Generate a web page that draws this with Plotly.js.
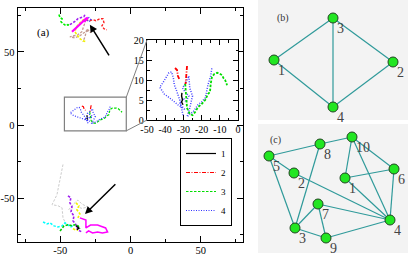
<!DOCTYPE html>
<html><head><meta charset="utf-8">
<script src="https://cdn.plot.ly/plotly-3.0.1.min.js"></script>
<style>html,body{margin:0;padding:0;background:#fff}#chart{width:409px;height:256px}</style>
</head><body><div id="chart"></div>
<script>
// ---------- tick labels ----------
const mainTickVals = [-50, 0, 50];
const mainTickText = ['-50', '0', '50'];
const mainMinorVals = [-75, -25, 25, 75];
const insetXTickVals = [-50, -40, -30, -20, -10, 0];
const insetXTickText = ['-50', '-40', '-30', '-20', '-10', '0'];
const insetXMinor = [-45, -35, -25, -15, -5];
const insetYTickVals = [0, 5, 10, 15, 20];
const insetYTickText = ['0', '5', '10', '15', '20'];
const insetYMinor = [2.5, 7.5, 12.5, 17.5];

// ---------- upper cluster trajectories (panel a) ----------
const upGreenX = [-50.9, -50.1, -48.7, -49.4, -48.0, -45.9, -44.5, -43.1];
const upGreenY = [75.5, 73.4, 72.7, 70.6, 69.3, 67.9, 68.6, 67.9];
const upPurpleX = [-43.1, -40.9, -38.8, -37.4, -35.2, -33.1, -32.4];
const upPurpleY = [68.6, 69.9, 71.3, 72.7, 73.4, 74.1, 75.5];
const upMagentaX = [-41.6, -39.5, -37.4, -36.0, -33.8, -31.7, -30.3, -31.7, -33.1];
const upMagentaY = [63.8, 65.8, 67.9, 69.3, 71.3, 72.7, 73.4, 71.9, 70.6];
const upYellowX = [-33.1, -36.0, -38.8, -39.5, -38.1, -36.0, -33.8, -31.7];
const upYellowY = [72.3, 69.9, 66.5, 63.8, 61.7, 59.0, 57.6, 56.9];
const upTanX = [-31.7, -33.1, -34.6, -37.4, -43.1, -39.5, -36.0, -33.1, -30.3, -28.1, -31.0, -32.4, -33.8];
const upTanY = [71.9, 67.2, 63.8, 61.7, 60.3, 59.6, 61.0, 63.1, 64.4, 63.1, 65.8, 60.3, 56.9];
const upRedX = [-31.7, -28.9, -26.7, -24.6, -21.8, -19.6, -18.9, -20.3, -18.9, -16.8];
const upRedY = [72.0, 71.3, 72.0, 71.3, 72.7, 72.7, 70.0, 67.9, 65.8, 65.1];
const upBlueX = [-31.7, -29.6, -28.2, -29.6, -30.8];
const upBlueY = [72.7, 73.4, 72.0, 70.6, 71.5];

// ---------- lower cluster trajectories (panel a) ----------
const loGrayX = [-48.0, -49.0, -50.1, -51.5, -52.3, -55.8, -51.6, -48.7, -48.0, -45.9];
const loGrayY = [-27.0, -32.0, -37.5, -43.0, -47.7, -54.5, -55.2, -56.6, -63.5, -67.6];
const loGray2X = [-44.0, -40.5, -37.4, -34.6, -30.3, -34.6, -37.4];
const loGray2Y = [-58.0, -54.0, -51.3, -54.0, -56.1, -57.0, -56.1];
const loPurpleX = [-44.5, -42.4, -43.1, -41.6, -42.3, -40.2, -40.9, -38.8, -37.4, -34.6];
const loPurpleY = [-48.5, -49.7, -53.2, -55.9, -59.4, -62.1, -65.5, -68.2, -71.7, -73.1];
const loYellowX = [-38.8, -36.7, -38.1, -36.0, -37.4];
const loYellowY = [-53.2, -55.2, -58.0, -60.7, -63.5];
const loYellow2X = [-40.9, -38.5, -37.4];
const loYellow2Y = [-71.0, -72.0, -71.7];
const loMagentaX = [-36.0, -31.7, -31.7, -28.4, -23.4, -20.0, -17.7, -16.3, -20.0, -23.4, -27.0, -29.8, -31.7];
const loMagentaY = [-63.5, -64.9, -70.4, -68.4, -68.4, -69.8, -70.4, -73.1, -73.8, -73.1, -73.8, -72.4, -73.8];
const loCyanX = [-62.2, -59.4, -57.2, -54.4, -51.6, -48.7, -46.6, -44.5, -42.3, -40.2];
const loCyanY = [-66.3, -67.6, -66.9, -69.0, -69.7, -69.0, -66.9, -68.2, -69.7, -68.2];
const loGreenX = [-50.1, -48.7, -47.3, -44.5, -41.6, -39.5, -37.4, -36.0];
const loGreenY = [-72.4, -70.4, -69.0, -68.2, -68.9, -68.2, -68.9, -71.0];
const loBlackX = [-38.8, -36.7, -38.1];
const loBlackY = [-68.9, -70.4, -71.7];

// ---------- the four labelled trajectories (shown in the small box and the inset) ----------
const s1X = [-30.8, -31.0, -30.5, -31.0, -30.2];
const s1Y = [6.8, 6.0, 5.0, 4.5, 3.8];
const s2X = [-34.6, -33.5, -33.0, -32.0, null, -28.0, -28.3, -28.8];
const s2Y = [13.0, 12.5, 11.0, 10.0, null, 13.5, 11.5, 9.0];
const s3X = [-29.0, -28.8, -28.5, -28.0, -26.5, -25.0, -23.5, -22.0, -20.0, -18.0, -16.5, -15.4, -15.0, -14.3, -13.0, -11.5, -10.0, -8.8, -8.0, -7.1, -6.5, -6.0];
const s3Y = [9.0, 7.0, 5.0, 3.0, 1.5, 1.2, 2.0, 3.2, 4.0, 5.0, 6.5, 7.0, 9.0, 10.8, 11.5, 11.8, 11.6, 11.2, 10.5, 10.0, 9.3, 8.7];
const s4X = [-30.2, -31.0, -32.0, -33.5, -35.0, -35.5, -36.5, -38.0, -39.0, -41.0, -43.0, -40.5, -37.5, -35.0, -33.0, -31.0, -29.0, -30.0, -32.0, -30.0, -28.5, -27.0, -29.0, -30.5, -28.5, -27.0, -26.5, -25.0, -26.5, -28.0, -26.5, -24.7, -22.0, -20.0, -18.0, -16.5, -15.0, -14.3];
const s4Y = [1.2, 3.0, 5.0, 7.0, 8.8, 10.5, 12.0, 11.8, 11.0, 9.5, 8.2, 6.5, 5.5, 4.5, 3.8, 3.2, 2.5, 3.0, 4.0, 5.5, 4.5, 6.0, 7.0, 8.0, 9.5, 11.0, 8.0, 6.0, 3.0, 0.8, 1.5, 2.0, 3.8, 4.5, 5.5, 8.8, 11.0, 13.2];

// ---------- arrows & zoom box (panel a) ----------
const arrowTailX = [-14.6, -9.7];
const arrowTailY = [46.6, -39.5];
const arrowHeadX = [-28.9, -32.4];
const arrowHeadY = [68.6, -60.9];
const zoomBoxX = [-47, -3];
const zoomBoxY = [-4, 19];

// ---------- network (b) ----------
const bNodeX = [274, 393, 333, 333];
const bNodeY = [60, 62, 18, 107];
const bLabels = ['1', '2', '3', '4'];
const bEdgeFrom = [1, 1, 3, 3, 4];
const bEdgeTo = [3, 4, 4, 2, 2];

// ---------- network (c) ----------
const cNodeX = [345, 294, 295, 390, 269, 394, 318, 320, 326, 352];
const cNodeY = [178, 173, 228, 220, 156, 169, 204, 144, 238, 137];
const cLabels = ['1', '2', '3', '4', '5', '6', '7', '8', '9', '10'];
const cEdgeFrom = [5, 8, 5, 5, 2, 8, 10, 10, 10, 1, 1, 6, 7, 3, 7, 3, 9];
const cEdgeTo = [8, 10, 2, 3, 4, 3, 1, 6, 4, 6, 4, 4, 4, 7, 9, 9, 4];

// ---------- layout geometry ----------
const W = 409, H = 256;
const mainDomX = [18 / W, 243 / W], mainDomY = [14 / H, 248 / H];
const insDomX = [147 / W, 238 / W], insDomY = [136 / H, 216 / H];
const bDomX = [258 / W, 408 / W], bDomY = [136 / H, 1];
const cDomX = [258 / W, 408 / W], cDomY = [3 / H, 132 / H];
const mainRange = [-80, 80];
const serif = 'Liberation Serif, Times New Roman, serif';
const DASH = '2.5px,1.5px', DOT = '1px,1.5px', DASHDOT = '4px,1.5px,1px,1.5px';

function line(x, y, color, dash, width, axes, name, showlegend) {
  return {x: x, y: y, type: 'scatter', mode: 'lines', xaxis: axes[0], yaxis: axes[1],
    line: {color: color, dash: dash, width: width}, name: name || '', showlegend: !!showlegend,
    hoverinfo: 'skip', connectgaps: false};
}
const A = ['x', 'y'], I = ['x2', 'y2'];
const traces = [
  line(upGreenX, upGreenY, '#00ee00', DASH, 1.6, A),
  line(upTanX, upTanY, '#c49a90', DASH, 1.3, A),
  line(upYellowX, upYellowY, '#f2f200', DASH, 1.6, A),
  line(upPurpleX, upPurpleY, '#a020f0', DASH, 1.6, A),
  line(upRedX, upRedY, '#ff2020', DASH, 1.4, A),
  line(upBlueX, upBlueY, '#4444ff', DOT, 1.4, A),
  line(upMagentaX, upMagentaY, '#ff00ff', 'solid', 2.2, A),
  line(loGrayX, loGrayY, '#cccccc', DASH, 1.0, A),
  line(loGray2X, loGray2Y, '#cccccc', DASH, 1.0, A),
  line(loCyanX, loCyanY, '#00ffff', DASH, 1.5, A),
  line(loPurpleX, loPurpleY, '#a020f0', DASH, 1.6, A),
  line(loYellowX, loYellowY, '#f2f200', DASH, 1.6, A),
  line(loYellow2X, loYellow2Y, '#f2f200', DASH, 1.6, A),
  line(loMagentaX, loMagentaY, '#ff00ff', 'solid', 1.5, A),
  line(loGreenX, loGreenY, '#00cc00', DASH, 1.6, A),
  line(loBlackX, loBlackY, '#000000', 'solid', 1.4, A),
  // labelled series in the small zoom box (legend entries)
  line(s1X, s1Y, '#000000', 'solid', 1.2, A, '1', true),
  line(s2X, s2Y, '#ff0000', DASHDOT, 1.2, A, '2', true),
  line(s3X, s3Y, '#00dd00', DASH, 1.2, A, '3', true),
  line(s4X, s4Y, '#3333ff', DOT, 1.2, A, '4', true),
  // inset copies
  line(s4X, s4Y, '#4444ff', DOT, 1.5, I),
  line(s3X, s3Y, '#00dd00', DASH, 1.8, I),
  line(s2X, s2Y, '#ff0000', DASHDOT, 1.8, I),
  line(s1X, s1Y, '#000000', 'solid', 1.4, I)
];

function edgeXY(nx, ny, from, to) {
  const ex = [], ey = [];
  for (let k = 0; k < from.length; k++) {
    ex.push(nx[from[k] - 1], nx[to[k] - 1], null);
    ey.push(ny[from[k] - 1], ny[to[k] - 1], null);
  }
  return [ex, ey];
}
function network(nx, ny, from, to, xa, ya) {
  const e = edgeXY(nx, ny, from, to);
  return [
    {x: e[0], y: e[1], xaxis: xa, yaxis: ya, type: 'scatter', mode: 'lines',
      line: {color: '#2f9a9a', width: 1.2}, showlegend: false, hoverinfo: 'skip'},
    {x: nx, y: ny, xaxis: xa, yaxis: ya, type: 'scatter', mode: 'markers',
      marker: {color: '#22e622', size: 10, line: {color: '#224422', width: 1}},
      showlegend: false, hoverinfo: 'skip'}
  ];
}
traces.push(...network(bNodeX, bNodeY, bEdgeFrom, bEdgeTo, 'x3', 'y3'));
traces.push(...network(cNodeX, cNodeY, cEdgeFrom, cEdgeTo, 'x4', 'y4'));

const tickFont = {family: serif, size: 10.5, color: '#000'};
function mainAxis(dom, anchor, standoff) {
  return {domain: dom, anchor: anchor, range: mainRange, tickmode: 'array', tickvals: mainTickVals,
    ticktext: mainTickText, ticks: 'inside', ticklen: 6, tickwidth: 1, tickcolor: '#000',
    minor: {tickmode: 'array', tickvals: mainMinorVals, ticks: 'inside', ticklen: 3, tickcolor: '#000'},
    showline: true, linecolor: '#000', linewidth: 1.3, mirror: 'allticks', showgrid: false,
    zeroline: false, tickfont: tickFont, fixedrange: true, ticklabelstandoff: standoff};
}
function insetAxis(dom, anchor, range, tv, tt, mv) {
  return {domain: dom, anchor: anchor, range: range, tickmode: 'array', tickvals: tv, ticktext: tt,
    ticks: 'inside', ticklen: 5, tickwidth: 1, tickcolor: '#000',
    minor: {tickmode: 'array', tickvals: mv, ticks: 'inside', ticklen: 2.5, tickcolor: '#000'},
    showline: true, linecolor: '#000', linewidth: 1.3, mirror: 'allticks', showgrid: false,
    zeroline: false, tickfont: {family: serif, size: 10, color: '#000'}, fixedrange: true};
}
function hiddenAxis(dom, anchor, range) {
  return {domain: dom, anchor: anchor, range: range, visible: false, showgrid: false,
    zeroline: false, fixedrange: true};
}

// zoom box corners in paper coordinates (from axis domains and ranges)
function px(v) { return mainDomX[0] + (v - mainRange[0]) / (mainRange[1] - mainRange[0]) * (mainDomX[1] - mainDomX[0]); }
function py(v) { return mainDomY[0] + (v - mainRange[0]) / (mainRange[1] - mainRange[0]) * (mainDomY[1] - mainDomY[0]); }

const shapes = [
  {type: 'rect', xref: 'x3 domain', yref: 'y3 domain', x0: 0, x1: 1, y0: 0, y1: 1,
    fillcolor: '#f3f3f3', line: {width: 0}, layer: 'below'},
  {type: 'rect', xref: 'x4 domain', yref: 'y4 domain', x0: 0, x1: 1, y0: 0, y1: 1,
    fillcolor: '#f3f3f3', line: {width: 0}, layer: 'below'},
  {type: 'rect', xref: 'x', yref: 'y', x0: zoomBoxX[0], x1: zoomBoxX[1], y0: zoomBoxY[0], y1: zoomBoxY[1],
    line: {color: '#808080', width: 1.2}},
  {type: 'line', xref: 'paper', yref: 'paper', x0: px(zoomBoxX[1]), y0: py(zoomBoxY[1]),
    x1: insDomX[0], y1: insDomY[1], line: {color: '#808080', width: 1}},
  {type: 'line', xref: 'paper', yref: 'paper', x0: px(zoomBoxX[1]), y0: py(zoomBoxY[0]),
    x1: insDomX[0], y1: insDomY[0], line: {color: '#808080', width: 1}}
];

const annotations = [
  {xref: 'x', yref: 'y', x: -62, y: 63, text: '(a)', showarrow: false, font: {family: serif, size: 11, color: '#000'}},
  {xref: 'x3', yref: 'y3', x: 283, y: 18, text: '(b)', showarrow: false, font: {family: serif, size: 10, color: '#333'}},
  {xref: 'x4', yref: 'y4', x: 275, y: 140, text: '(c)', showarrow: false, font: {family: serif, size: 10, color: '#333'}}
];
function nodeLabels(nx, ny, labels, xa, ya) {
  for (let k = 0; k < nx.length; k++) {
    annotations.push({xref: xa, yref: ya, x: nx[k], y: ny[k], text: labels[k], showarrow: false,
      xanchor: 'left', yanchor: 'middle', xshift: 2, yshift: -10,
      font: {family: serif, size: 14, color: '#444'}});
  }
}
nodeLabels(bNodeX, bNodeY, bLabels, 'x3', 'y3');
nodeLabels(cNodeX, cNodeY, cLabels, 'x4', 'y4');
for (let k = 0; k < arrowTailX.length; k++) {
  annotations.push({xref: 'x', yref: 'y', axref: 'x', ayref: 'y', x: arrowHeadX[k], y: arrowHeadY[k],
    ax: arrowTailX[k], ay: arrowTailY[k], text: '', showarrow: true, arrowhead: 2, arrowsize: 1,
    arrowwidth: 1.5, arrowcolor: '#000'});
}

const layout = {
  width: W, height: H, margin: {l: 0, r: 0, t: 0, b: 0},
  paper_bgcolor: '#fff', plot_bgcolor: '#fff',
  font: {family: serif, color: '#000'},
  xaxis: mainAxis(mainDomX, 'y', -2),
  yaxis: mainAxis(mainDomY, 'x', 0),
  xaxis2: insetAxis(insDomX, 'y2', [-50, 0], insetXTickVals, insetXTickText, insetXMinor),
  yaxis2: insetAxis(insDomY, 'x2', [0, 20], insetYTickVals, insetYTickText, insetYMinor),
  xaxis3: hiddenAxis(bDomX, 'y3', [258, 408]),
  yaxis3: hiddenAxis(bDomY, 'x3', [120, 0]),
  xaxis4: hiddenAxis(cDomX, 'y4', [258, 408]),
  yaxis4: hiddenAxis(cDomY, 'x4', [253, 124]),
  showlegend: true,
  legend: {x: 232 / W, xanchor: 'right', y: 118 / H, yanchor: 'top', bgcolor: '#fff',
    bordercolor: '#000', borderwidth: 1, font: {family: serif, size: 9, color: '#000'}, itemwidth: 30,
    tracegroupgap: 0},
  shapes: shapes, annotations: annotations
};
Plotly.newPlot('chart', traces, layout, {staticPlot: true, displayModeBar: false});
</script></body></html>
